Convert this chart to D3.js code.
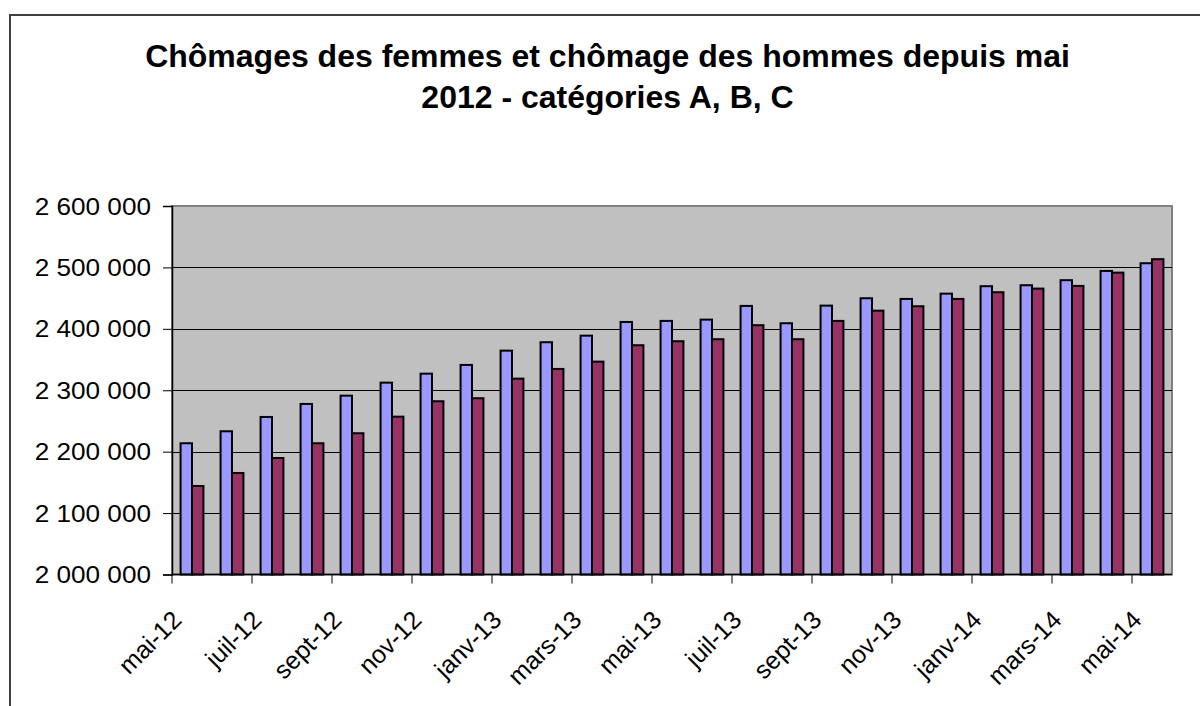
<!DOCTYPE html>
<html>
<head>
<meta charset="utf-8">
<script src="https://cdn.jsdelivr.net/npm/d3@7"></script>
<style>
html,body{margin:0;padding:0;background:#fff;}
svg{display:block;font-family:"Liberation Sans",Arial,sans-serif;}
</style>
</head>
<body>
<svg id="chart" width="1200" height="706"></svg>
<script>
const months = ["mai-12","juin-12","juil-12","août-12","sept-12","oct-12","nov-12","déc-12",
  "janv-13","févr-13","mars-13","avr-13","mai-13","juin-13","juil-13","août-13","sept-13","oct-13",
  "nov-13","déc-13","janv-14","févr-14","mars-14","avr-14","mai-14"];
const femmes = [2213700,2233200,2256500,2277700,2291200,2312400,2327000,2341200,2364500,2378200,
  2388900,2411200,2412900,2415000,2437300,2409100,2437800,2449800,2448700,2457300,2469400,2471000,
  2479200,2494300,2506800];
const hommes = [2144100,2165300,2189700,2213700,2230000,2257000,2282100,2287000,2318900,2334700,
  2346600,2373300,2379800,2383100,2405900,2383100,2412900,2429600,2436800,2448700,2459600,2465500,
  2469900,2491500,2513400];
const yTicks = [2000000,2100000,2200000,2300000,2400000,2500000,2600000];
const titleLines = ["Chômages des femmes et chômage des hommes depuis mai","2012 - catégories A, B, C"];
const seriesColors = ["#9999FF","#993366"];

const svg = d3.select("#chart");
const L = 172, R = 1172, T = 206, B = 574.5;

// outer border
svg.append("rect").attr("x",10).attr("y",15).attr("width",1200).attr("height",720)
  .attr("fill","#fff").attr("stroke","#404040").attr("stroke-width",2);

// title
svg.append("g").selectAll("text").data(titleLines).join("text")
  .attr("x",607.5).attr("y",(d,i)=>[66.5,107.5][i])
  .attr("text-anchor","middle").attr("font-weight","bold").attr("font-size",32)
  .attr("fill","#000").text(d=>d);

const xGroup = d3.scaleBand().domain(months).range([L,R]);
const y = d3.scaleLinear().domain([2000000,2600000]).range([B,T]);

// plot background
svg.append("rect").attr("x",L).attr("y",T).attr("width",R-L).attr("height",B-T)
  .attr("fill","#C0C0C0").attr("stroke","#808080").attr("stroke-width",2);

// gridlines
svg.append("g").selectAll("line").data(yTicks.slice(1,-1)).join("line")
  .attr("x1",L).attr("x2",R).attr("y1",d=>Math.round(y(d))+0.5).attr("y2",d=>Math.round(y(d))+0.5)
  .attr("stroke","#000").attr("stroke-width",1);

// bars
const bw = xGroup.bandwidth()/3.5;
const data = months.map((m,i)=>({m, v:[femmes[i],hommes[i]]}));
const gBars = svg.append("g");
[0,1].forEach(s=>{
  gBars.selectAll(".s"+s).data(data).join("rect").attr("class","s"+s)
    .attr("x",d=>xGroup(d.m)+bw*0.75+s*bw)
    .attr("y",d=>y(d.v[s]))
    .attr("width",bw)
    .attr("height",d=>B-y(d.v[s]))
    .attr("fill",seriesColors[s]).attr("stroke","#000").attr("stroke-width",2);
});

// y axis
const yAxis = d3.axisLeft(y).tickValues(yTicks).tickSize(9).tickFormat("");
const gy = svg.append("g").attr("transform",`translate(${L},0)`).call(yAxis);
gy.select(".domain").attr("stroke","#000").attr("stroke-width",1.5);
gy.selectAll(".tick line").attr("stroke","#000");
svg.append("g").selectAll("text").data(yTicks).join("text")
  .attr("transform",d=>`translate(151,${y(d)}) scale(1.09,1)`)
  .attr("dy","0.36em").attr("text-anchor","end").attr("font-size",24).attr("fill","#000")
  .text(d=>d3.format(",")(d).replace(/,/g," "));

// x axis with ticks at category boundaries
const boundaries = d3.range(0, months.length+1, 2).map(i=>L + i*xGroup.step());
svg.append("line").attr("x1",L).attr("x2",R).attr("y1",B).attr("y2",B)
  .attr("stroke","#000").attr("stroke-width",1.5);
svg.append("g").selectAll("line").data(boundaries.filter(b=>b<R)).join("line")
  .attr("x1",d=>d).attr("x2",d=>d).attr("y1",B).attr("y2",B+9).attr("stroke","#000");

const labelled = months.filter((m,i)=>i%2===0);
svg.append("g").selectAll("text").data(labelled).join("text")
  .attr("transform",d=>`translate(${xGroup(d)+xGroup.bandwidth()/2-9},${B+47}) rotate(-45)`)
  .attr("text-anchor","end").attr("font-size",25).attr("fill","#000").text(d=>d);
</script>
</body>
</html>
